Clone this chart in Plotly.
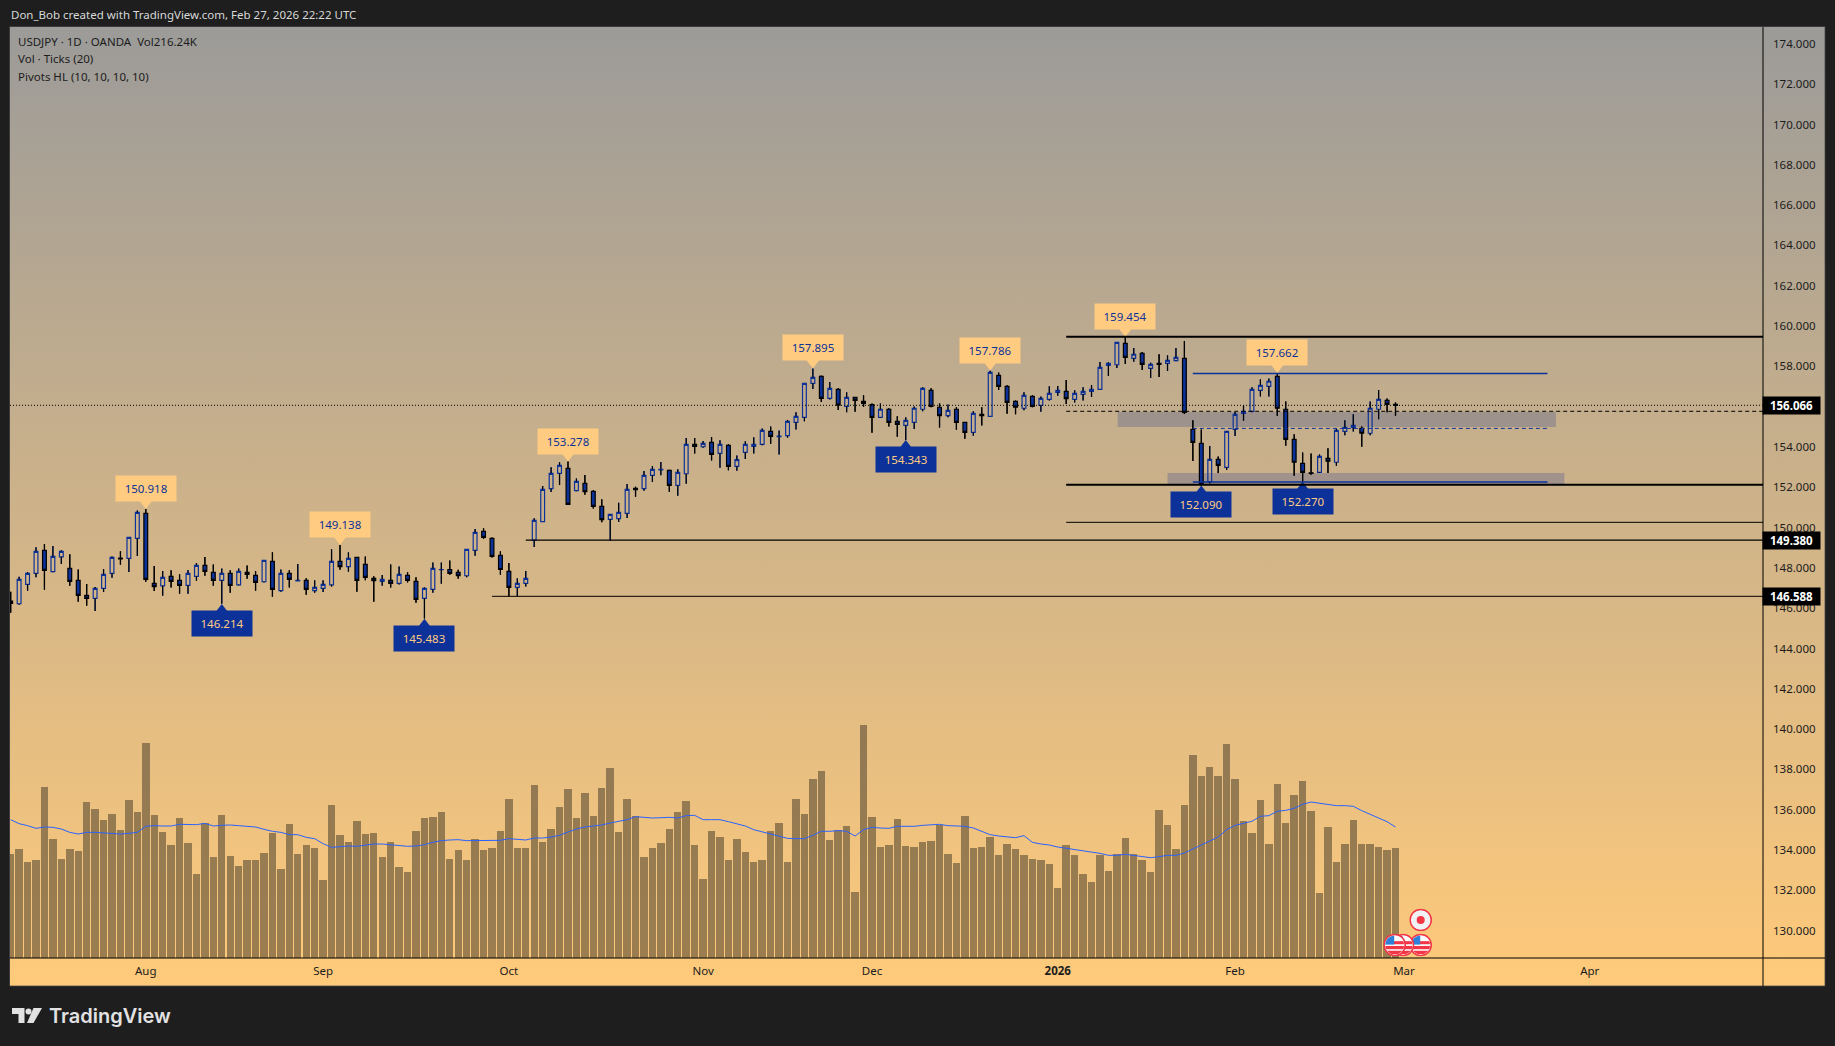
import base64

import plotly.graph_objects as go

W, H = 1835, 1046
FONT = "Noto Sans"

# daily bars
opens = [146.35, 146.22, 147.18, 147.73, 148.87, 147.81, 148.55, 147.97, 147.38, 146.63,
         146.49, 146.98, 147.73, 148.49, 148.47, 149.46, 150.70, 147.23, 147.11, 147.58,
         147.38, 147.13, 147.58, 148.12, 147.78, 147.38, 147.73, 147.16, 147.78, 147.63,
         147.31, 148.32, 146.87, 147.73, 147.35, 147.38, 146.87, 146.98, 147.16, 148.32,
         148.06, 148.52, 148.17, 147.48, 147.33, 147.38, 147.23, 147.63, 147.33, 146.49,
         146.93, 147.91, 147.92, 147.78, 147.61, 148.87, 149.81, 149.46, 148.62, 147.83,
         147.03, 147.23, 149.38, 150.29, 151.93, 152.69, 152.94, 151.83, 152.19, 151.80,
         151.05, 150.41, 150.44, 150.70, 151.94, 151.93, 152.59, 152.86, 152.84, 152.09,
         152.67, 154.13, 154.01, 154.23, 153.68, 154.08, 153.04, 153.73, 154.03, 154.13,
         154.77, 154.51, 154.56, 155.22, 155.47, 157.16, 157.50, 156.41, 156.86, 156.01,
         156.46, 156.26, 156.10, 155.47, 155.87, 155.27, 155.07, 155.22, 155.87, 156.81,
         155.97, 155.55, 155.87, 155.22, 154.72, 155.62, 155.52, 157.55, 157.01, 156.26,
         155.92, 156.51, 156.06, 156.36, 156.71, 156.76, 156.36, 156.61, 156.76, 156.86,
         158.05, 158.08, 159.14, 158.40, 158.65, 157.90, 158.15, 158.15, 158.28, 158.40,
         154.87, 154.18, 152.28, 153.38, 152.99, 154.87, 155.67, 155.77, 156.81, 157.01,
         157.50, 155.87, 154.38, 153.19, 152.72, 152.74, 153.43, 153.24, 154.77, 154.97,
         154.92, 154.68, 155.87, 156.31, 156.11]
highs = [146.82, 147.56, 147.79, 149.02, 149.18, 149.08, 148.88, 148.67, 147.92, 147.20,
         147.05, 147.94, 148.57, 148.82, 149.51, 150.85, 150.918, 148.09, 147.84, 147.88,
         147.68, 147.89, 148.24, 148.54, 148.17, 147.97, 147.88, 147.97, 148.12, 147.83,
         148.37, 148.77, 147.92, 147.88, 148.19, 147.48, 147.38, 147.38, 148.93, 149.138,
         148.77, 148.52, 148.57, 147.58, 147.64, 148.17, 148.07, 147.78, 147.53, 147.03,
         148.27, 148.27, 148.37, 147.91, 148.92, 149.93, 149.96, 149.51, 148.82, 148.24,
         147.48, 147.84, 150.46, 152.06, 152.99, 153.24, 153.278, 152.44, 152.61, 151.85,
         151.40, 150.67, 151.23, 152.16, 152.03, 152.81, 153.05, 153.25, 152.87, 152.89,
         154.44, 154.44, 154.29, 154.49, 154.33, 154.13, 153.58, 154.28, 154.48, 154.92,
         155.02, 154.82, 155.34, 155.72, 157.16, 157.895, 157.55, 157.22, 156.91, 156.71,
         156.48, 156.56, 156.16, 156.16, 155.92, 155.52, 155.47, 156.01, 156.96, 156.91,
         156.16, 156.11, 155.97, 155.22, 155.77, 155.97, 157.786, 157.70, 157.06, 156.31,
         156.71, 156.56, 156.51, 157.01, 157.02, 157.32, 156.81, 156.96, 157.07, 158.22,
         158.20, 159.19, 159.454, 158.91, 158.71, 158.18, 158.60, 158.55, 158.91, 159.26,
         155.32, 154.87, 154.05, 153.53, 154.79, 155.73, 156.06, 156.96, 157.36, 157.40,
         157.662, 156.26, 154.63, 153.73, 153.68, 153.63, 153.93, 154.92, 155.32, 155.62,
         155.02, 156.26, 156.83, 156.41, 156.21]
lows = [145.77, 146.17, 146.87, 147.54, 146.92, 147.78, 148.19, 147.11, 146.32, 146.12,
        145.86, 146.80, 147.51, 148.16, 147.79, 148.59, 147.31, 146.85, 146.62, 147.02,
        146.72, 146.72, 147.36, 147.61, 147.11, 146.214, 146.77, 147.13, 147.46, 146.87,
        147.28, 146.57, 146.82, 147.02, 147.35, 146.67, 146.77, 146.80, 147.07, 147.91,
        147.81, 146.82, 147.38, 146.32, 147.11, 147.02, 147.18, 147.28, 146.27, 145.483,
        146.77, 147.21, 147.66, 147.46, 147.54, 148.60, 149.45, 148.52, 147.66, 146.59,
        146.59, 147.07, 149.03, 150.29, 151.76, 152.11, 151.15, 151.80, 151.63, 150.94,
        150.26, 149.36, 150.27, 150.47, 151.53, 151.83, 152.26, 152.59, 151.78, 151.58,
        152.18, 153.67, 153.96, 153.33, 152.97, 152.84, 152.82, 153.40, 153.67, 154.08,
        154.16, 153.62, 154.46, 154.87, 155.27, 156.87, 156.23, 156.36, 155.83, 155.72,
        155.75, 156.00, 154.71, 155.44, 155.02, 154.51, 154.343, 154.89, 155.77, 155.97,
        154.96, 155.47, 154.86, 154.41, 154.56, 155.07, 155.52, 156.83, 155.65, 155.62,
        155.82, 155.97, 155.75, 156.31, 156.54, 156.13, 156.21, 156.30, 156.48, 156.86,
        157.52, 157.92, 158.12, 158.23, 157.82, 157.42, 157.47, 157.77, 158.25, 155.63,
        153.30, 152.090, 152.19, 152.71, 152.86, 154.54, 155.30, 155.72, 156.51, 156.51,
        155.55, 154.06, 152.57, 152.270, 152.62, 152.71, 152.71, 153.07, 154.58, 154.77,
        154.01, 154.58, 155.37, 155.72, 155.55]
closes = [146.24, 147.43, 147.73, 148.82, 147.88, 148.57, 148.82, 147.33, 146.63, 146.49,
          146.98, 147.68, 148.52, 148.45, 149.51, 150.75, 147.43, 147.07, 147.53, 147.33,
          147.13, 147.73, 148.12, 147.83, 147.38, 147.73, 147.13, 147.83, 147.68, 147.28,
          148.37, 146.93, 147.73, 147.43, 147.38, 146.93, 147.03, 147.18, 148.32, 148.06,
          148.47, 147.38, 147.53, 147.36, 147.43, 147.23, 147.68, 147.38, 146.44, 146.98,
          147.97, 147.92, 147.73, 147.61, 148.92, 149.76, 149.51, 148.57, 147.92, 147.03,
          147.23, 147.48, 150.36, 151.90, 152.69, 153.09, 151.15, 152.29, 151.78, 151.05,
          150.39, 150.65, 150.75, 151.90, 151.88, 152.59, 152.89, 152.89, 152.09, 152.74,
          154.13, 154.03, 154.18, 153.63, 154.13, 153.04, 153.37, 154.13, 154.13, 154.82,
          154.53, 154.54, 155.27, 155.52, 157.16, 157.45, 156.41, 156.91, 156.08, 156.46,
          156.31, 156.16, 155.47, 155.87, 155.22, 155.12, 155.32, 155.92, 156.91, 156.01,
          155.55, 155.82, 155.22, 154.72, 155.67, 155.55, 157.70, 157.01, 156.21, 155.97,
          156.56, 156.01, 156.41, 156.66, 156.81, 156.40, 156.66, 156.76, 156.86, 157.95,
          158.15, 159.19, 158.45, 158.60, 158.10, 158.10, 158.10, 158.30, 158.45, 155.72,
          154.23, 152.16, 153.38, 153.09, 154.77, 155.62, 155.77, 156.86, 157.06, 157.26,
          155.92, 154.38, 153.24, 152.74, 152.69, 153.53, 153.29, 154.82, 154.97, 155.07,
          154.68, 155.92, 156.36, 156.11, 156.066]

# tick volume in thousands and its 20 bar average
volume = [203.8, 214.3, 188.8, 192.7, 335.8, 233.9, 194.7, 214.3, 210.4, 306.4,
          292.7, 271.1, 282.9, 251.5, 310.3, 286.8, 422.0, 280.9, 247.6, 222.1,
          275.0, 226.0, 165.3, 265.2, 198.6, 280.9, 200.6, 181.0, 192.7, 192.7,
          206.4, 245.6, 175.1, 263.3, 204.5, 222.1, 216.2, 153.5, 300.5, 241.7,
          228.0, 269.2, 243.7, 245.6, 198.6, 228.0, 179.0, 169.2, 249.6, 275.0,
          277.0, 286.8, 194.7, 212.3, 192.7, 233.9, 212.3, 216.2, 249.6, 312.3,
          216.2, 216.2, 339.7, 228.0, 253.5, 296.6, 331.9, 275.0, 324.0, 279.0,
          333.8, 373.0, 247.6, 312.3, 279.0, 198.6, 216.2, 226.0, 253.5, 286.8,
          308.4, 222.1, 155.5, 249.6, 237.8, 192.7, 233.9, 208.4, 188.8, 192.7,
          249.6, 265.2, 188.8, 312.3, 282.9, 351.5, 367.2, 231.9, 251.5, 259.4,
          130.0, 457.3, 277.0, 218.2, 222.1, 273.1, 220.2, 218.2, 228.0, 230.0,
          261.3, 204.5, 186.8, 279.0, 216.2, 218.2, 237.8, 202.5, 224.1, 214.3,
          202.5, 194.7, 192.7, 184.9, 137.8, 222.1, 202.5, 165.3, 149.6, 202.5,
          171.2, 204.5, 235.8, 204.5, 192.7, 169.2, 290.7, 261.3, 214.3, 300.5,
          398.5, 357.4, 375.0, 357.4, 420.1, 351.5, 269.2, 245.6, 310.3, 224.1,
          341.7, 265.2, 320.1, 347.6, 288.8, 128.0, 257.4, 188.8, 224.1, 271.1,
          224.1, 224.1, 218.2, 212.3, 216.24]
volume_ma = [271.1, 263.3, 259.4, 254.1, 256.7, 256.1, 252.8, 246.3, 243.0, 246.3,
             246.3, 245.6, 245.0, 243.0, 244.3, 246.3, 258.1, 259.4, 258.7, 258.7,
             262.0, 262.0, 261.3, 263.9, 258.7, 260.0, 260.7, 259.4, 258.7, 256.7,
             252.2, 248.3, 246.3, 241.7, 241.7, 236.5, 233.9, 224.1, 216.9, 218.9,
             219.5, 218.9, 220.8, 223.4, 223.4, 222.1, 219.5, 218.9, 219.5, 222.1,
             226.7, 230.0, 231.3, 231.9, 230.0, 230.0, 230.6, 231.3, 230.6, 233.9,
             233.2, 231.3, 235.2, 235.2, 237.1, 240.4, 246.9, 252.8, 256.7, 258.1,
             260.7, 264.6, 267.2, 271.1, 277.0, 275.7, 274.4, 275.0, 275.7, 274.4,
             279.0, 279.6, 271.1, 271.1, 271.1, 267.2, 262.6, 258.7, 251.5, 247.6,
             243.7, 238.5, 234.5, 233.9, 233.9, 240.4, 248.3, 248.3, 249.6, 248.3,
             239.1, 251.5, 256.1, 254.8, 254.1, 258.1, 258.1, 258.1, 260.0, 261.3,
             262.0, 259.4, 258.7, 258.1, 254.8, 248.3, 241.7, 239.1, 237.1, 235.8,
             239.8, 226.7, 223.4, 221.5, 217.5, 214.9, 213.6, 211.0, 207.1, 205.1,
             201.2, 201.2, 203.2, 200.6, 198.6, 196.6, 198.6, 201.2, 201.2, 205.8,
             213.6, 221.5, 230.0, 237.1, 251.5, 260.0, 263.9, 267.9, 277.7, 279.0,
             287.5, 289.4, 293.3, 301.2, 305.7, 303.8, 301.8, 298.6, 298.6, 297.3,
             288.8, 282.2, 274.4, 267.2, 256.7]

# pivots (bar number, price)
pivot_high_bars = [16, 39, 66, 95, 116, 132, 150]
pivot_high_prices = [150.918, 149.138, 153.278, 157.895, 157.786, 159.454, 157.662]
pivot_low_bars = [25, 49, 106, 141, 153]
pivot_low_prices = [146.214, 145.483, 154.343, 152.090, 152.270]

# axis ticks
price_ticks = [130, 132, 134, 136, 138, 140, 142, 144, 146, 148, 150, 152,
               154, 156, 158, 160, 162, 164, 166, 168, 170, 172, 174]
month_bars = [16, 37, 59, 82, 102, 124, 145, 165, 187]
month_labels = ["Aug", "Sep", "Oct", "Nov", "Dec", "<b>2026</b>", "Feb", "Mar", "Apr"]

# hand drawn levels: price, first bar, last bar (None = up to the scale), colour, width, dash
level_prices = [159.47, 157.64, 155.77, 154.92, 152.26, 152.13, 150.26, 149.38, 146.588]
level_starts = [125, 140, 125, 140, 140, 125, 125, 61, 57]
level_ends = [None, 182, None, 182, 182, None, None, None, None]
level_colors = ["black", "#0c3299", "black", "#0c3299", "#0c3299", "black", "black", "black", "black"]
level_widths = [2, 1.5, 1, 1, 1.5, 2, 1, 1.2, 1]
level_dashes = ["solid", "solid", "4px,3px", "4px,3px", "solid", "solid", "solid", "solid", "solid"]
# grey zones: bottom, top, first bar, last bar
zone_bottoms = [154.99, 152.14]
zone_tops = [155.73, 152.71]
zone_starts = [131.1, 137]
zone_ends = [183, 184]
tag_prices = [156.066, 149.380, 146.588]

NAVY = "#0c3299"
CREAM = "#ffcb80"
X_RANGE = [-0.08, 207.52]
LAST_PRICE = closes[-1]


def px(x):
    return x / W


def py(y):
    return 1 - y / H


def svg_uri(svg):
    return "data:image/svg+xml;base64," + base64.b64encode(svg.encode()).decode()


US_FLAG = """<svg xmlns="http://www.w3.org/2000/svg" viewBox="0 0 24 24">
<defs><clipPath id="c"><circle cx="12" cy="12" r="10"/></clipPath></defs>
<circle cx="12" cy="12" r="11" fill="#fff" stroke="#f23645" stroke-width="1.6"/>
<g clip-path="url(#c)"><rect x="0" y="13" width="24" height="3.4" fill="#f23645"/>
<rect x="11" y="8" width="13" height="3.2" fill="#f23645"/>
<rect x="0" y="18" width="24" height="3.4" fill="#f23645"/>
<rect x="0" y="0" width="11.5" height="11.6" fill="#2f80d8"/></g></svg>"""
JP_FLAG = """<svg xmlns="http://www.w3.org/2000/svg" viewBox="0 0 24 24">
<circle cx="12" cy="12" r="11" fill="#f1f1f4" stroke="#f23645" stroke-width="1.6"/>
<circle cx="12" cy="12" r="4.2" fill="#f23645"/></svg>"""
BACKDROP = """<svg xmlns="http://www.w3.org/2000/svg" viewBox="0 0 10 10" preserveAspectRatio="none">
<defs><linearGradient id="g" x1="0" y1="0" x2="0" y2="1"><stop offset="0" stop-color="#9c9b99"/>
<stop offset="1" stop-color="#ffca7a"/></linearGradient></defs>
<rect width="10" height="10" fill="url(#g)"/></svg>"""

bars = list(range(len(closes)))

# wicks are black on every candle, the candle trace only colours the bodies
wick_x, wick_y = [], []
for i in bars:
    wick_x += [i, i, None, i, i, None]
    wick_y += [lows[i], min(opens[i], closes[i]), None,
               max(opens[i], closes[i]), highs[i], None]

fig = go.Figure()
fig.add_trace(go.Bar(x=bars, y=volume, width=0.88, yaxis="y",
                     marker=dict(color="rgba(96,79,53,0.62)", line_width=0), hoverinfo="skip"))
fig.add_trace(go.Scatter(x=bars, y=volume_ma, mode="lines", yaxis="y",
                         line=dict(color="#2962ff", width=1), hoverinfo="skip"))
fig.add_trace(go.Candlestick(x=bars, open=opens, high=highs, low=lows, close=closes, yaxis="y2",
                             increasing=dict(line=dict(color=NAVY, width=1.2), fillcolor="rgba(0,0,0,0)"),
                             decreasing=dict(line=dict(color="#000000", width=1.2), fillcolor=NAVY),
                             whiskerwidth=0, hoverinfo="skip"))
fig.add_trace(go.Scatter(x=wick_x, y=wick_y, mode="lines", yaxis="y2",
                         line=dict(color="black", width=1.2), hoverinfo="skip"))
fig.add_trace(go.Scatter(x=pivot_high_bars, y=[p + 0.3 for p in pivot_high_prices], mode="markers", yaxis="y2",
                         marker=dict(symbol="triangle-down", size=12, color=CREAM), hoverinfo="skip"))
fig.add_trace(go.Scatter(x=pivot_low_bars, y=[p - 0.3 for p in pivot_low_prices], mode="markers", yaxis="y2",
                         marker=dict(symbol="triangle-up", size=12, color=NAVY), hoverinfo="skip"))

shapes = []
for b, t, s, e in zip(zone_bottoms, zone_tops, zone_starts, zone_ends):
    shapes.append(dict(type="rect", xref="x", yref="y2", x0=s, x1=e, y0=b, y1=t, layer="below",
                       fillcolor="rgba(120,118,140,0.5)", line_width=0))
for p, s, e, c, w, d in zip(level_prices, level_starts, level_ends, level_colors, level_widths, level_dashes):
    shapes.append(dict(type="line", xref="x", yref="y2", x0=s, x1=e if e is not None else X_RANGE[1],
                       y0=p, y1=p, line=dict(color=c, width=w, dash=d)))
# last price line
shapes.append(dict(type="line", xref="x", yref="y2", x0=X_RANGE[0], x1=X_RANGE[1], y0=LAST_PRICE, y1=LAST_PRICE,
                   line=dict(color="black", width=1, dash="1px,2px")))
# pane frame and scale lines
shapes.append(dict(type="rect", xref="paper", yref="paper", x0=px(9.5), x1=px(1825), y0=py(986), y1=py(26.5),
                   line=dict(color="rgba(70,70,70,0.75)", width=1)))
shapes.append(dict(type="line", xref="paper", yref="paper", x0=px(1763), x1=px(1763), y0=py(986), y1=py(27),
                   line=dict(color="black", width=1)))
shapes.append(dict(type="line", xref="paper", yref="paper", x0=px(10), x1=px(1825), y0=py(958), y1=py(958),
                   line=dict(color="black", width=1)))
# TradingView logo
LOGO = "#e2e2e2"
shapes.append(dict(type="path", xref="paper", yref="paper", fillcolor=LOGO, line_width=0,
                   path=f"M{px(12)},{py(1008)} H{px(24.5)} V{py(1023)} H{px(18.5)} V{py(1014)} H{px(12)} Z"))
shapes.append(dict(type="circle", xref="paper", yref="paper", fillcolor=LOGO, line_width=0,
                   x0=px(25.5), x1=px(31.5), y0=py(1014.5), y1=py(1008.5)))
shapes.append(dict(type="path", xref="paper", yref="paper", fillcolor=LOGO, line_width=0,
                   path=f"M{px(33.5)},{py(1008)} H{px(42)} L{px(33.5)},{py(1023)} H{px(27)} Z"))

annotations = []
for b, p in zip(pivot_high_bars, pivot_high_prices):
    annotations.append(dict(x=b, y=p, xref="x", yref="y2", yanchor="bottom", yshift=7, showarrow=False,
                            text=f"{p:.3f}", width=58, height=23, bgcolor=CREAM, valign="middle",
                            font=dict(family=FONT, size=11.5, color=NAVY)))
for b, p in zip(pivot_low_bars, pivot_low_prices):
    annotations.append(dict(x=b, y=p, xref="x", yref="y2", yanchor="top", yshift=-6, showarrow=False,
                            text=f"{p:.3f}", width=58, height=23, bgcolor=NAVY, valign="middle",
                            font=dict(family=FONT, size=11.5, color=CREAM)))
for p in tag_prices:
    annotations.append(dict(x=px(1791.5), y=p, xref="paper", yref="y2", xanchor="center", yanchor="middle",
                            showarrow=False, text=f"<b>{p:.3f}</b>", width=55, height=15, bgcolor="black",
                            font=dict(family=FONT, size=11.5, color="white")))
annotations.append(dict(x=px(9), y=py(15), xref="paper", yref="paper", xanchor="left", yanchor="middle",
                        showarrow=False, text="Don_Bob created with TradingView.com, Feb 27, 2026 22:22 UTC",
                        font=dict(family=FONT, size=11.5, color="#d8d8d8")))
for y, txt in [(42, "USDJPY · 1D · OANDA  Vol216.24K"), (59, "Vol · Ticks (20)"), (76, "Pivots HL (10, 10, 10, 10)")]:
    annotations.append(dict(x=px(16), y=py(y), xref="paper", yref="paper", xanchor="left", yanchor="middle",
                            showarrow=False, text=txt, font=dict(family=FONT, size=11.5, color="#1c1c1c")))
annotations.append(dict(x=px(47), y=py(1016), xref="paper", yref="paper", xanchor="left", yanchor="middle",
                        showarrow=False, text="TradingView",
                        font=dict(family="Inter", size=20, color=LOGO, weight=600)))

images = [dict(source=svg_uri(BACKDROP), xref="paper", yref="paper", x=px(10), y=py(27), sizex=px(1815),
               sizey=959 / H, sizing="stretch", layer="below", xanchor="left", yanchor="top")]
for cx, src in [(1420.7, US_FLAG), (1403, US_FLAG), (1394.7, US_FLAG)]:
    images.append(dict(source=svg_uri(src), xref="paper", yref="paper", x=px(cx), y=py(945), sizex=px(23),
                       sizey=23 / H, sizing="stretch", xanchor="center", yanchor="middle", layer="above"))
images.append(dict(source=svg_uri(JP_FLAG), xref="paper", yref="paper", x=px(1420.7), y=py(920), sizex=px(23),
                   sizey=23 / H, sizing="stretch", xanchor="center", yanchor="middle", layer="above"))

fig.update_layout(
    width=W, height=H, margin=dict(l=0, r=0, t=0, b=0), paper_bgcolor="#1e1e1e", plot_bgcolor="rgba(0,0,0,0)",
    showlegend=False, bargap=0, boxgap=0.4, boxgroupgap=0.25, hovermode=False, dragmode=False,
    font=dict(family=FONT, size=11.5, color="#1c1c1c"),
    xaxis=dict(domain=[px(10), px(1763)], range=X_RANGE, showgrid=False, zeroline=False, showline=False,
               tickmode="array", tickvals=month_bars, ticktext=month_labels, ticks="", ticklabelstandoff=4,
               rangeslider=dict(visible=False), anchor="y", tickfont=dict(size=11.5, color="#1c1c1c")),
    yaxis=dict(domain=[py(958), py(27)], range=[0, 1824.7], visible=False, fixedrange=True),
    yaxis2=dict(domain=[py(958), py(27)], range=[128.64, 174.84], overlaying="y", side="right", anchor="x",
                showgrid=False, zeroline=False, showline=False, tickmode="array", tickvals=price_ticks,
                ticktext=[f"{t:.3f}" for t in price_ticks], ticks="", ticklabelstandoff=9,
                tickfont=dict(size=11.5, color="#1c1c1c")),
    shapes=shapes, annotations=annotations, images=images,
)

fig.write_html("out.html", config={"displayModeBar": False},
               post_script="document.body.style.margin='0';document.body.style.overflow='hidden';")
